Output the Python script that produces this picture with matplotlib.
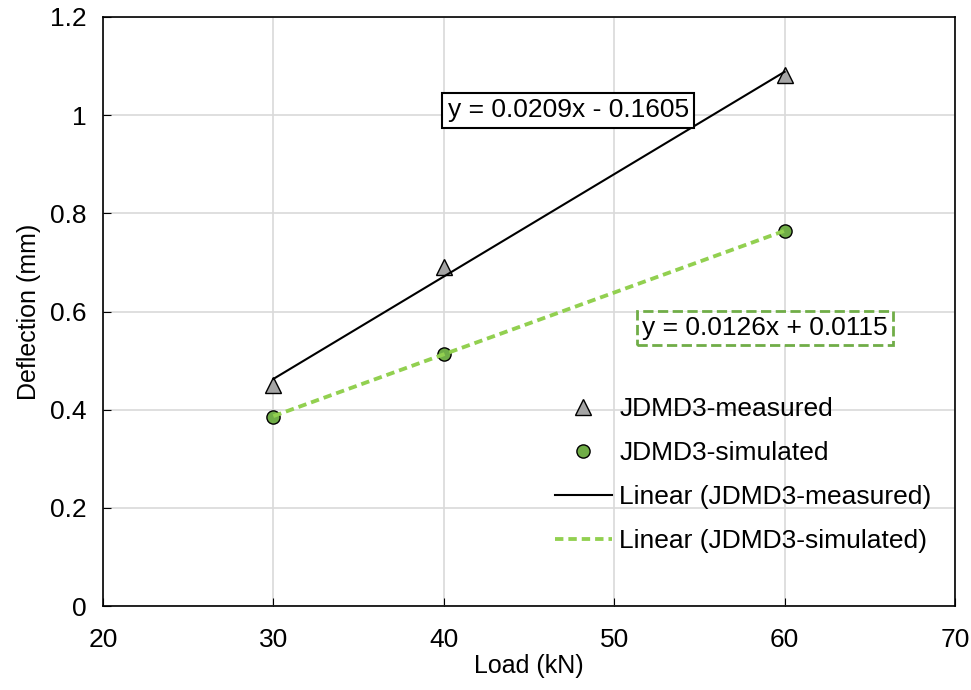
import numpy as np
import matplotlib
matplotlib.use('Agg')
import matplotlib.pyplot as plt

plt.rcParams['font.family'] = ['Liberation Sans', 'DejaVu Sans']

load = [30, 40, 60]
measured = [0.450, 0.690, 1.082]
simulated = [0.386, 0.514, 0.764]

eq_measured = 'y = 0.0209x - 0.1605'
eq_simulated = 'y = 0.0126x + 0.0115'

fig = plt.figure(figsize=(9.71, 6.90), dpi=100)
ax = fig.add_axes([0.106, 0.1217, 0.8775, 0.8537])

# trend lines (least squares on the data)
xs = np.array([min(load), max(load)])
pm = np.polyfit(load, measured, 1)
ps = np.polyfit(load, simulated, 1)

ax.plot(load, measured, ls='none', marker='^', ms=11.5, mfc='#A5A5A5', mec='black', mew=1,
        label='JDMD3-measured', zorder=3)
ax.plot(load, simulated, ls='none', marker='o', ms=9.5, mfc='#70AD47', mec='black', mew=1,
        label='JDMD3-simulated', zorder=3)
ax.plot(xs, np.polyval(pm, xs), color='black', lw=1.5, label='Linear (JDMD3-measured)', zorder=4)
ax.plot(xs, np.polyval(ps, xs), color='#92D050', lw=2.75, ls=(0, (2.2, 1.3)),
        label='Linear (JDMD3-simulated)', zorder=4)

ax.set_xlim(20, 70)
ax.set_ylim(0, 1.2)
ax.set_xticks(np.arange(20, 71, 10))
ax.set_yticks(np.arange(0, 1.21, 0.2))
ax.set_yticklabels(['0', '0.2', '0.4', '0.6', '0.8', '1', '1.2'])
ax.grid(True, color='#D9D9D9', lw=1.2)
ax.set_axisbelow(True)
for s in ax.spines.values():
    s.set_linewidth(1.2)
ax.tick_params(axis='x', direction='in', length=6, labelsize=19, pad=16)
ax.tick_params(axis='y', direction='in', length=6, labelsize=19, pad=12)

ax.set_xlabel('Load (kN)', fontsize=18, labelpad=1)
ax.set_ylabel('Deflection (mm)', fontsize=18, labelpad=6)

ax.text(47.3, 1.010, eq_measured, fontsize=19, ha='center', va='center', zorder=5,
        bbox=dict(boxstyle='square,pad=0.2', fc='white', ec='black', lw=1.5))
ax.text(58.85, 0.566, eq_simulated, fontsize=19, ha='center', va='center', zorder=5,
        bbox=dict(boxstyle='square,pad=0.2', fc='white', ec='#70AD47', lw=2, ls='--'))

ax.legend(loc='upper left', bbox_to_anchor=(0.518, 0.372), borderaxespad=0, frameon=False,
          fontsize=19, handlelength=2.15, handletextpad=0.3, labelspacing=0.75)

fig.savefig('out.png', dpi=100)
